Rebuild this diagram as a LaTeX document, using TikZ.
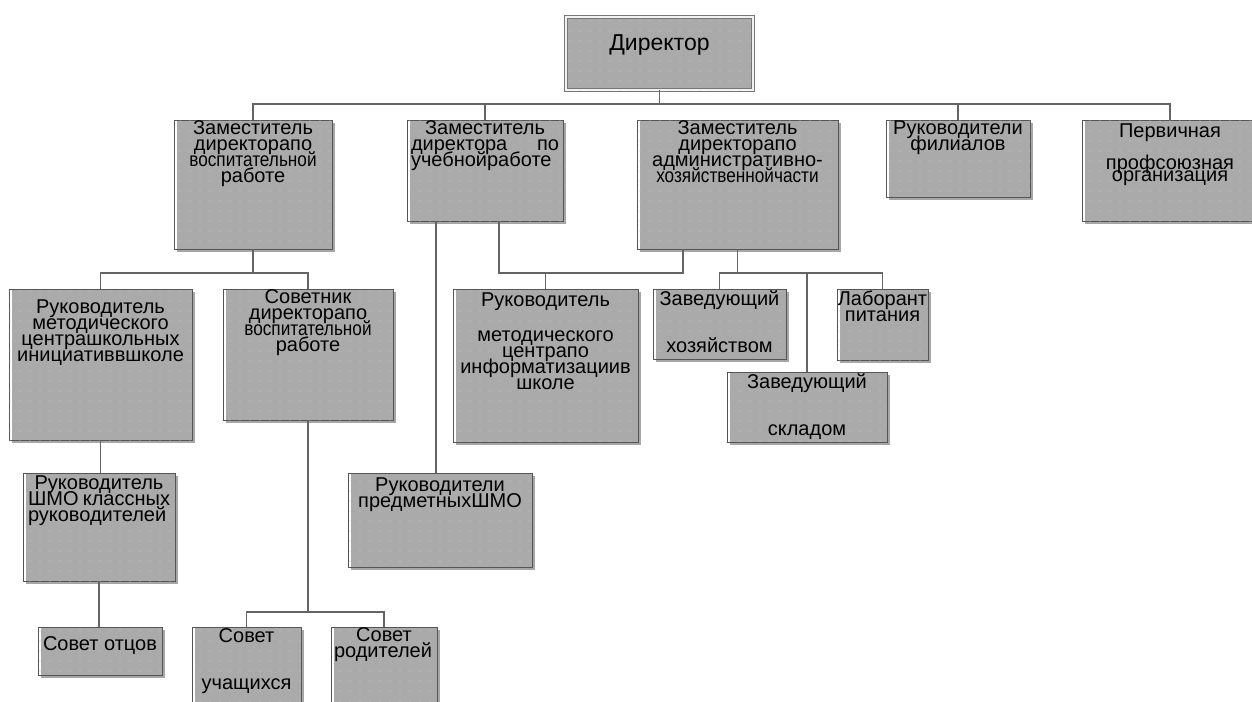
\documentclass[tikz,border=0pt]{standalone}
\usepackage{fontspec}
\usepackage{graphicx}
\newfontfamily\orgfont{Liberation Sans}
\usetikzlibrary{positioning,shadows,patterns.meta}

\definecolor{boxfill}{RGB}{170,170,170}
\definecolor{boxline}{RGB}{85,85,85}
\definecolor{dotcol}{RGB}{196,196,196}
\definecolor{linecol}{RGB}{100,100,100}

% narrow lines, as in the scanned chart
\newcommand{\narrow}[1]{\scalebox{0.86}[1]{#1}}

\begin{document}
\begin{tikzpicture}[%
    x=1pt, y=-1pt,              % one unit = one pixel, y runs downwards
    every node/.style={inner sep=0pt, outer sep=0pt},
    ]

\tikzset{
    box/.style={draw=boxline, fill=boxfill, line width=0.9pt, anchor=north west,
      drop shadow={shadow xshift=3pt, shadow yshift=-3pt, fill=black, opacity=.35},
      path picture={\fill[white] (path picture bounding box.north west) rectangle ([xshift=3pt]path picture bounding box.south west);},
      postaction={pattern={Dots[distance=10pt, radius=.6pt]}, pattern color=dotcol}},
    head/.style={draw=boxline!80, fill=boxfill, line width=0.8pt, anchor=north west,
      double=white!85!boxfill, double distance=2pt,
      postaction={pattern={Dots[distance=10pt, radius=.6pt]}, pattern color=dotcol}},
    txt/.style={align=center, font={\orgfont\fontsize{20pt}{16pt}\selectfont\lineskiplimit=-50pt}},
    % connector lines
    link/.style={draw=linecol, line width=1.2pt},
}

\clip (0,0) rectangle (1252,701);

%% Director
\node [head, minimum width=187pt, minimum height=73pt] (dir) at (566,17) {};
\node [txt, font={\orgfont\fontsize{23pt}{26pt}\selectfont}, below=18pt of dir.north] (dirtxt) {Директор};

%% first level
\node [box, minimum width=158pt, minimum height=129pt] (vosp) at (174,120) {};
\node [txt, below=1pt of vosp.north] (vosptxt) {Заместитель\\директорапо\\\narrow{воспитательной}\\работе};
\node [box, minimum width=156pt, minimum height=101pt] (ucheb) at (407,120) {};
\node [txt, text width=148pt, below=1pt of ucheb.north] (uchebtxt) {Заместитель\\\makebox[148pt][s]{директора\hfill по}\\\makebox[148pt][l]{учебнойработе}};
\node [box, minimum width=201pt, minimum height=129pt] (ahch) at (637,120) {};
\node [txt, below=1pt of ahch.north] (ahchtxt) {Заместитель\\директорапо\\административно-\\\narrow{хозяйственнойчасти}};
\node [box, minimum width=144pt, minimum height=77pt] (filial) at (886,120) {};
\node [txt, below=1pt of filial.north] (filialtxt) {Руководители\\филиалов};
\node [box, minimum width=176pt, minimum height=101pt] (profs) at (1082,120) {};
\node [txt, below=4pt of profs.north] (profstxt) {Первичная\\[16pt]профсоюзная\\[-4pt]организация};

    \coordinate (topbus) at (dir.south |- 0,104);
    \draw[link] (dir.south) -- (topbus);
    \draw[link] (vosp.north) |- (topbus) -| (profs.north);
    \draw[link] (ucheb.north) -- (ucheb.north |- topbus);
    \draw[link] (filial.north) -- (filial.north |- topbus);

%% under the deputy for upbringing
\node [box, minimum width=183pt, minimum height=151pt] (metcentr) at (9,289) {};
\node [txt, below=11pt of metcentr.north] (metcentrtxt) {Руководитель\\методического\\центрашкольных\\инициативвшколе};
\node [box, minimum width=170pt, minimum height=131pt] (sovetnik) at (223,289) {};
\node [txt, below=1pt of sovetnik.north] (sovetniktxt) {Советник\\директорапо\\\narrow{воспитательной}\\работе};
\node [box, minimum width=152pt, minimum height=108pt] (shmo) at (23,473) {};
\node [txt, text width=142pt, below=3pt of shmo.north] (shmotxt) {Руководитель\\\makebox[142pt][s]{ШМО\hfill классных}\\\makebox[142pt][l]{руководителей}};
\node [box, minimum width=124pt, minimum height=48pt] (otcy) at (38,627) {};
\node [txt, below=10pt of otcy.north] (otcytxt) {Совет отцов};
\node [box, minimum width=109pt, minimum height=90pt] (uchas) at (192,627) {};
\node [txt, below=2pt of uchas.north] (uchastxt) {Совет\\[31pt]учащихся};
\node [box, minimum width=106pt, minimum height=90pt] (rodit) at (331,627) {};
\node [txt, text width=100pt, below=1pt of rodit.north] (rodittxt) {Совет\\\makebox[100pt][l]{родителей}};

    \path (vosp.south) ++(0,24) coordinate (vbus);
    \draw[link] (vosp.south) -- (vbus);
    \draw[link] (metcentr.north) |- (vbus) -| (sovetnik.north);
    \draw[link] (metcentr.south) -- (metcentr.south |- shmo.north);
    \draw[link] (shmo.south) -- (shmo.south |- otcy.north);
    \path (sovetnik.south) ++(0,192) coordinate (sbus);
    \draw[link] (sovetnik.south) -- (sbus);
    \draw[link] (uchas.north) |- (sbus) -| (rodit.north);

%% under the deputies for teaching and for the household
\node [box, minimum width=184pt, minimum height=94pt] (predm) at (348,473) {};
\node [txt, below=5pt of predm.north] (predmtxt) {Руководители\\предметныхШМО};
\node [box, minimum width=185pt, minimum height=153pt] (inform) at (453,289) {};
\node [txt, below=4pt of inform.north] (informtxt) {Руководитель\\[19pt]методического\\центрапо\\информатизациив\\школе};
\node [box, minimum width=133pt, minimum height=70pt] (hoz) at (653,289) {};
\node [txt, below=2pt of hoz.north] (hoztxt) {Заведующий\\[31pt]хозяйством};
\node [box, minimum width=160pt, minimum height=70pt] (sklad) at (727,372) {};
\node [txt, below=2pt of sklad.north] (skladtxt) {Заведующий\\[31pt]складом};
\node [box, minimum width=91pt, minimum height=71pt] (labor) at (837,289) {};
\node [txt, below=2pt of labor.north] (labortxt) {Лаборант\\питания};

    \coordinate (b1) at ([xshift=29pt]ucheb.south west);
    \coordinate (b2) at ([xshift=92pt]ucheb.south west);
    \coordinate (c1) at ([xshift=46pt]ahch.south west);
    \draw[link] (b1) -- (b1 |- predm.north);
    \path (inform.north) ++(0,-16) coordinate (mbus);
    \draw[link] (b2) |- (mbus) -| (c1);
    \draw[link] (inform.north) -- (mbus);
    \path (ahch.south) ++(0,24) coordinate (zbus);
    \draw[link] (ahch.south) -- (zbus);
    \draw[link] (hoz.north) |- (zbus) -| (labor.north);
    \draw[link] (sklad.north) -- (sklad.north |- zbus);
\end{tikzpicture}
\end{document}
